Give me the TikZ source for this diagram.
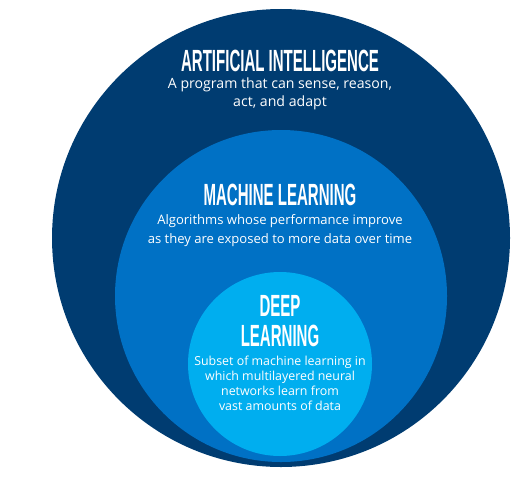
\documentclass[tikz,border=0pt]{standalone}
\usepackage{fontspec}
\setmainfont{Open Sans}
\newfontfamily\headfont[FakeStretch=0.49]{Liberation Sans}
\usetikzlibrary{positioning}

\definecolor{aiblue}{HTML}{003C71}
\definecolor{mlblue}{HTML}{0071C5}
\definecolor{dlblue}{HTML}{00AEEF}

\begin{document}
\begin{tikzpicture}[
    x=0.75pt, y=-0.75pt,
    ring/.style={circle, inner sep=0pt, draw=none},
    title/.style={text=white, align=center, inner sep=0pt,
                  font=\headfont\bfseries\fontsize{23}{22.5}\selectfont},
    blurb/.style={text=white, align=center, inner sep=0pt,
                  font=\fontsize{10.6}{13.8}\selectfont}
  ]
  \useasboundingbox (0,0) rectangle (530,478);

  % nested circles
  \node[ring, fill=aiblue, minimum size=343.5pt] (ai) at (281,238) {};
  \node[ring, fill=mlblue, minimum size=249pt] (ml) at (281,296) {};
  \node[ring, fill=dlblue, minimum size=138pt] (dl) at (280,364) {};

  % labels
  \node[title] (aititle) at (280,61) {ARTIFICIAL INTELLIGENCE};
  \node[blurb] (aitext) at (280,94)
    {A program that can sense, reason,\\act, and adapt};

  \node[title] (mltitle) at (280,195) {MACHINE LEARNING};
  \node[blurb, font=\fontsize{9.8}{14.3}\selectfont] (mltext) at (280,230.5)
    {Algorithms whose performance improve\\as they are exposed to more data over time};

  \node[title] (dltitle) at (280,321) {DEEP\\LEARNING};
  \node[blurb, font=\fontsize{9.3}{11.3}\selectfont] (dltext) at (280,383.5)
    {Subset of machine learning in\\which multilayered neural\\networks learn from\\vast amounts of data};
\end{tikzpicture}
\end{document}
